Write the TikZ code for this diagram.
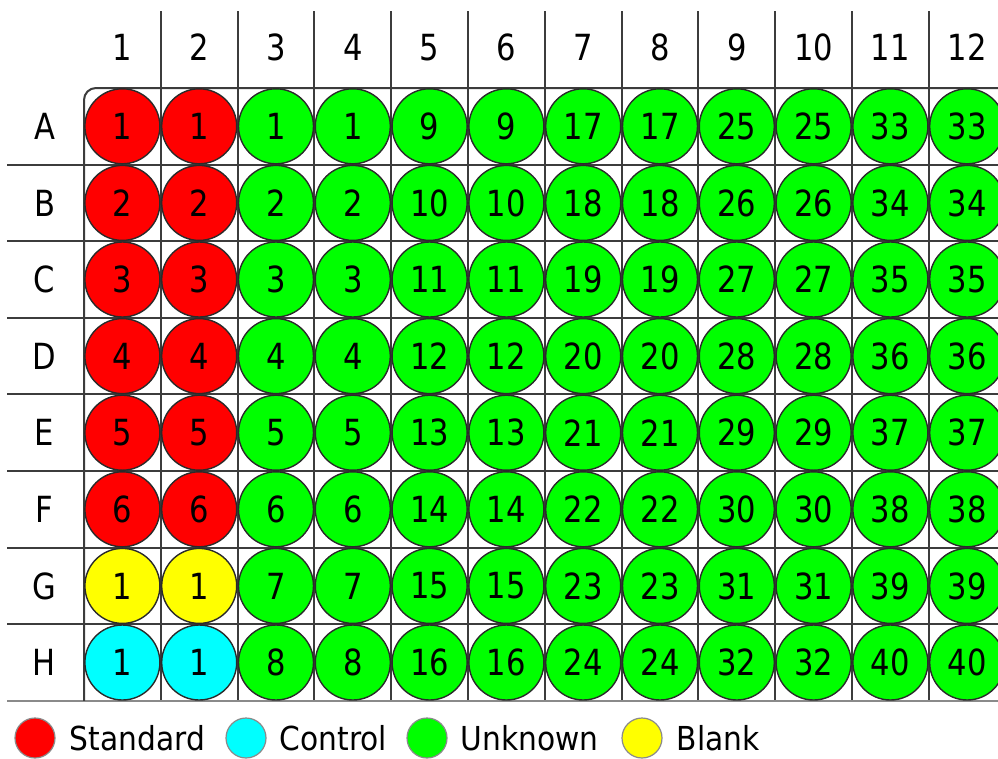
\documentclass[tikz,border=0pt]{standalone}
\usepackage{fontspec}
\usepackage{tikz}
\usetikzlibrary{positioning}
\newfontfamily\platefont[FakeStretch=0.85]{DejaVu Sans}
\newfontfamily\keyfont[FakeStretch=0.9]{DejaVu Sans}
\definecolor{stdred}{HTML}{FF0000}
\definecolor{ctlcyan}{HTML}{00FFFF}
\definecolor{unkgreen}{HTML}{00FF00}
\definecolor{blkyellow}{HTML}{FFFF00}
\definecolor{rim}{HTML}{2A2A2A}
\definecolor{gridgray}{HTML}{3C3C3C}
\definecolor{edgegray}{HTML}{8A8A8A}
\tikzset{
  gridline/.style={draw=gridgray,line width=2pt},
  well/.style={circle,draw=rim,line width=1.4pt,minimum size=75pt,inner sep=0pt,
    font=\platefont\fontsize{36}{36}\selectfont},
  headlabel/.style={inner sep=0pt,font=\platefont\fontsize{36}{36}\selectfont},
  keydot/.style={circle,draw=edgegray,line width=1.2pt,minimum size=40pt,inner sep=0pt},
  keytext/.style={inner sep=0pt,font=\keyfont\fontsize{33}{33}\selectfont}
}

\begin{document}
\begin{tikzpicture}[x=1pt,y=-1pt]
  \useasboundingbox (0,0) rectangle (998,758);
  % grid
  \foreach \k in {1,...,11}
    \draw[gridline] ({84+76.8*\k},11) -- ({84+76.8*\k},700.8);
  \foreach \k in {1,...,7}
    \draw[gridline] (7,{88+76.6*\k}) -- (1010,{88+76.6*\k});
  \draw[gridline,draw=edgegray] (7,700.8) -- (1010,700.8);
  \draw[gridline,rounded corners=12pt] (84,700.8) |- (1010,88);
  % column and row labels
  \foreach \c in {1,...,12}
    \node[headlabel] (col-\c) at ({84+76.8*(\c-0.5)},47.5) {\c};
  \foreach \row [count=\r from 0] in {A,B,C,D,E,F,G,H}
    \node[headlabel] (row-\row) at (44.5,{88+76.6*(\r+0.5)}) {\row};
  % standards, blank and control
  \foreach \row/\col/\n [count=\r from 0] in
      {A/stdred/1,B/stdred/2,C/stdred/3,D/stdred/4,E/stdred/5,F/stdred/6,G/blkyellow/1,H/ctlcyan/1}
    \foreach \c in {1,2}
      \node[well,fill=\col] (w-\row\c) at ({84+76.8*(\c-0.5)},{88+76.6*(\r+0.5)}) {\n};
  % unknowns
  \foreach \row [count=\r from 0] in {A,B,C,D,E,F,G,H}
    \foreach \c in {3,...,12} {
      \pgfmathtruncatemacro{\n}{8*int((\c-3)/2)+\r+1}
      \node[well,fill=unkgreen] (w-\row\c) at ({84+76.8*(\c-0.5)},{88+76.6*(\r+0.5)}) {\n};
    }
  % legend
  \node[keydot,fill=stdred] (key-std) at (35,738) {};
  \node[keytext,right=14pt of key-std] (txt-std) {Standard};
  \node[keydot,fill=ctlcyan] (key-ctl) at (246,738) {};
  \node[keytext,right=13pt of key-ctl] (txt-ctl) {Control};
  \node[keydot,fill=unkgreen] (key-unk) at (427,738) {};
  \node[keytext,right=13pt of key-unk] (txt-unk) {Unknown};
  \node[keydot,fill=blkyellow] (key-blk) at (642,738) {};
  \node[keytext,right=14pt of key-blk] (txt-blk) {Blank};
\end{tikzpicture}
\end{document}
